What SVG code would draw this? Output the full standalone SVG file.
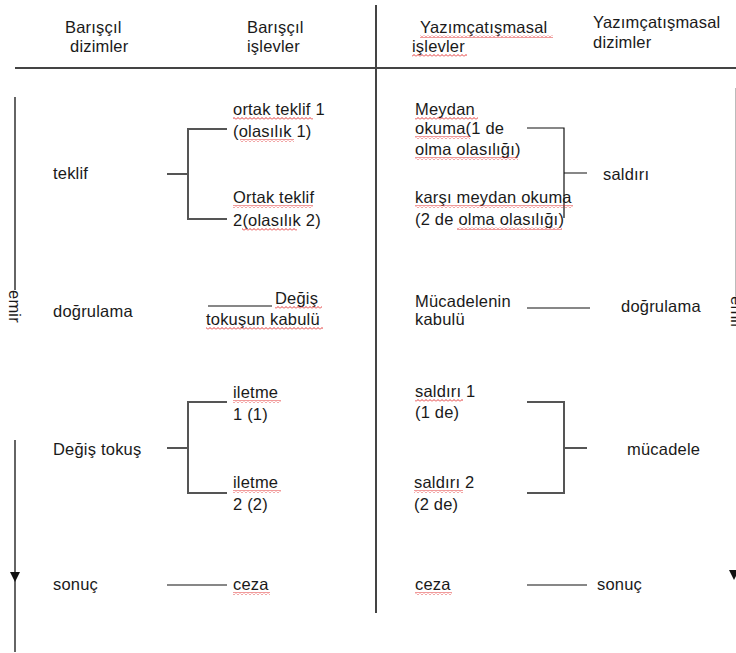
<svg xmlns="http://www.w3.org/2000/svg" width="736" height="653" viewBox="0 0 736 653">
<style>
text{font-family:"Liberation Sans",Arial,sans-serif;font-size:16.5px;letter-spacing:0.2px;fill:#1a1a1a}
.div{stroke:#444;stroke-width:2;fill:none}
.br{stroke:#555;stroke-width:2;fill:none}
.ln{stroke:#111;stroke-width:1.2;fill:none}
.sq{fill:url(#wave)}
</style>
<defs>
<pattern id="wave" width="4" height="3" patternUnits="userSpaceOnUse">
<path d="M0,2.5 L2,0.5 L4,2.5" stroke="#e02020" stroke-width="0.9" fill="none"/>
</pattern>
</defs>

<g id="frame">
<line class="div" x1="15" y1="68" x2="736" y2="68"/>
<line class="div" x1="376" y1="5" x2="376" y2="613"/>
</g>

<g id="headers">
<text x="65" y="33">Barışçıl</text>
<text x="70" y="52">dizimler</text>
<text x="247" y="33">Barışçıl</text>
<text x="247" y="52">işlevler</text>
<text x="420" y="33">Yazımçatışmasal</text>
<text x="412" y="52">işlevler</text>
<rect class="sq" x="420" y="35" width="133" height="3"/>
<rect class="sq" x="412" y="54" width="55" height="3"/>
<text x="593" y="28">Yazımçatışmasal</text>
<text x="593" y="48">dizimler</text>
</g>

<g id="emir-left">
<line stroke="#111" stroke-width="1.3" x1="15" y1="97" x2="15" y2="290"/>
<text transform="translate(9,290) rotate(90)">emir</text>
<line stroke="#111" stroke-width="1.3" x1="15" y1="440" x2="15" y2="652"/>
<path d="M10,572 L20,572 L15,582 Z" fill="#111"/>
</g>

<g id="emir-right">
<line stroke="#bbb" stroke-width="1" x1="735.5" y1="88" x2="735.5" y2="296"/>
<text transform="translate(731,296) rotate(90)">emir</text>
<path d="M729,570 L739,570 L734,580 Z" fill="#111"/>
</g>

<g id="connectors">
<path class="br" d="M167,174 H188 M227,129 H188 V219 H227"/>
<line class="ln" x1="208" y1="306" x2="272" y2="306"/>
<path class="br" d="M167,448 H188 M227,402 H188 V493 H227"/>
<line class="ln" x1="167" y1="585" x2="227" y2="585"/>
<path class="ln" d="M527,128 H564 V218 M564,173 H587"/>
<line class="ln" x1="527" y1="308" x2="590" y2="308"/>
<path class="br" d="M527,402 H564 V493 H527 M564,448 H587"/>
<line class="ln" x1="527" y1="585" x2="587" y2="585"/>
</g>

<g id="teklif"><text x="53" y="179">teklif</text></g>
<g id="ortak-teklif-1">
<text x="233" y="115">ortak teklif 1</text>
<text x="233" y="137">(olasılık 1)</text>
<rect class="sq" x="233" y="117" width="80" height="3"/>
<rect class="sq" x="240" y="139" width="54" height="3"/>
</g>
<g id="ortak-teklif-2">
<text x="233" y="203">Ortak teklif</text>
<text x="233" y="226">2(olasılık 2)</text>
<rect class="sq" x="233" y="205" width="80" height="3"/>
<rect class="sq" x="242" y="228" width="55" height="3"/>
</g>
<g id="dogrulama-l"><text x="53" y="317">doğrulama</text></g>
<g id="degis-kabul">
<text x="275" y="304">Değiş</text>
<text x="206" y="325">tokuşun kabulü</text>
<rect class="sq" x="275" y="306" width="47" height="3"/>
<rect class="sq" x="206" y="327" width="117" height="3"/>
</g>
<g id="degis-tokus"><text x="53" y="455">Değiş tokuş</text></g>
<g id="iletme-1">
<text x="233" y="398">iletme</text>
<text x="233" y="420">1 (1)</text>
<rect class="sq" x="233" y="400" width="48" height="3"/>
</g>
<g id="iletme-2">
<text x="233" y="488">iletme</text>
<text x="233" y="510">2 (2)</text>
<rect class="sq" x="233" y="490" width="48" height="3"/>
</g>
<g id="sonuc-l"><text x="53" y="590">sonuç</text></g>
<g id="ceza-l">
<text x="233" y="590">ceza</text>
<rect class="sq" x="233" y="592" width="37" height="3"/>
</g>

<g id="meydan-okuma">
<text x="415" y="115">Meydan</text>
<text x="415" y="134">okuma(1 de</text>
<text x="415" y="155">olma olasılığı)</text>
<rect class="sq" x="415" y="117" width="63" height="3"/>
<rect class="sq" x="415" y="136" width="55" height="3"/>
<rect class="sq" x="415" y="157" width="103" height="3"/>
</g>
<g id="karsi-meydan">
<text x="415" y="203">karşı meydan okuma</text>
<text x="415" y="225">(2 de olma olasılığı)</text>
<rect class="sq" x="415" y="205" width="158" height="3"/>
<rect class="sq" x="457" y="227" width="105" height="3"/>
</g>
<g id="saldiri"><text x="603" y="180">saldırı</text></g>
<g id="mucadele-kabul">
<text x="415" y="307">Mücadelenin</text>
<text x="415" y="325">kabulü</text>
</g>
<g id="dogrulama-r"><text x="621" y="312">doğrulama</text></g>
<g id="saldiri-1">
<text x="415" y="397">saldırı 1</text>
<text x="415" y="418">(1 de)</text>
<rect class="sq" x="415" y="399" width="48" height="3"/>
</g>
<g id="saldiri-2">
<text x="414" y="488">saldırı 2</text>
<text x="414" y="510">(2 de)</text>
<rect class="sq" x="414" y="490" width="49" height="3"/>
</g>
<g id="mucadele"><text x="627" y="455">mücadele</text></g>
<g id="ceza-r">
<text x="415" y="590">ceza</text>
<rect class="sq" x="415" y="592" width="37" height="3"/>
</g>
<g id="sonuc-r"><text x="597" y="590">sonuç</text></g>
</svg>
